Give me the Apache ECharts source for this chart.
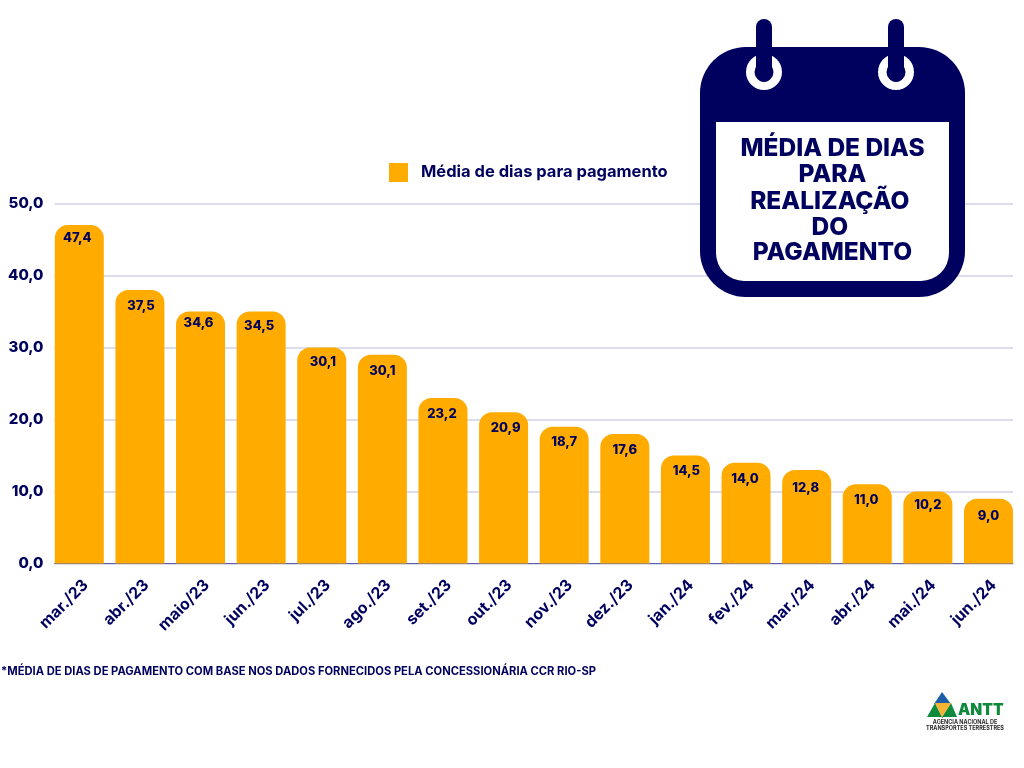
<!DOCTYPE html>
<html><head><meta charset="utf-8">
<style>html,body{margin:0;padding:0;background:#fff}#c{width:1024px;height:768px}</style>
<script src="https://cdn.jsdelivr.net/npm/echarts@6/dist/echarts.min.js"></script>
</head><body><div id="c"></div>
<script>
const categories = ['mar./23','abr./23','maio/23','jun./23','jul./23','ago./23','set./23','out./23','nov./23','dez./23','jan./24','fev./24','mar./24','abr./24','mai./24','jun./24'];
const barHeights = [47,38,35,35,30,29,23,21,19,18,15,14,13,11,10,9];
const printedLabels = ['47,4','37,5','34,6','34,5','30,1','30,1','23,2','20,9','18,7','17,6','14,5','14,0','12,8','11,0','10,2','9,0'];
const seriesName = 'Média de dias para pagamento';
const titleLines = ['MÉDIA DE DIAS','PARA','REALIZAÇÃO ','DO ','PAGAMENTO'];
const footnote = '*MÉDIA DE DIAS DE PAGAMENTO COM BASE NOS DADOS FORNECIDOS PELA CONCESSIONÁRIA CCR RIO-SP';

const labelDx = [-2,1,-2,-2,1,0,-1,2,0,0,1,-1,-1,-1,0,0];
const labelDy = [11,15,10,13,13,15,15,14,14,15,14,15,17,14,12,16];
const titleY = [148.5,175,202,228,253];

const NAVY='#00005f', ORANGE='#ffab00', GRID='#dcdcec', FF='Inter, "Noto Sans", sans-serif';
const chart = echarts.init(document.getElementById('c'), null, {renderer:'canvas'});

const ring = cx => [
  {type:'circle',shape:{cx,cy:72,r:18},style:{fill:'#fff'},z:21},
  {type:'circle',shape:{cx,cy:72,r:9.5},style:{fill:NAVY},z:22},
  {type:'rect',shape:{x:cx-8,y:19,width:16,height:63,r:8},style:{fill:NAVY},z:23}
];
const poly = (points,fill) => ({type:'polygon',shape:{points},style:{fill},z:21});
const tx = (x,y,text,font,fill,align) => ({type:'text',x,y,style:{text,font,fill,align:align||'center',verticalAlign:'middle'},z:25});

chart.setOption({
  animation:false,
  backgroundColor:'#fff',
  textStyle:{fontFamily:FF},
  legend:{left:384,top:158,itemWidth:19,itemHeight:19,icon:'rect',
    textStyle:{color:NAVY,fontSize:16.5,fontWeight:700,fontFamily:FF,padding:[0,0,0,8]},data:[seriesName]},
  grid:[
    {left:54.5,right:11,top:203.5,bottom:204.5},
    {left:49,width:969.8,top:203.5,bottom:204.5},
    {left:55.5,width:969.8,top:203.5,bottom:204.5}
  ],
  xAxis:[
    {type:'category',gridIndex:0,data:categories,
      axisTick:{show:false},axisLabel:{show:false},
      axisLine:{show:true,lineStyle:{color:'#5f5fa8',width:1}}},
    {type:'category',gridIndex:1,data:categories,show:false},
    {type:'category',gridIndex:2,data:categories,
      axisTick:{show:false},axisLine:{show:false},
      axisLabel:{rotate:45,interval:0,margin:19,color:NAVY,fontSize:16,fontWeight:700,fontFamily:FF}}
  ],
  yAxis:[
    {type:'value',gridIndex:0,min:0,max:50,interval:10,
      axisLine:{show:false},axisTick:{show:false},
      axisLabel:{margin:11,color:NAVY,fontSize:15,fontWeight:800,fontFamily:FF,formatter:v=>v.toFixed(1).replace('.',',')},
      splitLine:{lineStyle:{color:GRID,width:2}}},
    {type:'value',gridIndex:1,min:0,max:50,interval:10,show:false,splitLine:{show:false}},
    {type:'value',gridIndex:2,min:0,max:50,interval:10,show:false,splitLine:{show:false}}
  ],
  series:[{
    name:seriesName,type:'bar',xAxisIndex:1,yAxisIndex:1,barWidth:49,
    itemStyle:{color:ORANGE,borderRadius:[13,13,0,0]},
    data:barHeights.map((v,i)=>({value:v,label:{offset:[labelDx[i],labelDy[i]-5]}})),
    label:{show:true,position:'insideTop',distance:0,color:NAVY,fontSize:13,fontWeight:800,fontFamily:FF,
      formatter:p=>printedLabels[p.dataIndex]},
    z:5
  }],
  graphic:{elements:[
    {type:'rect',shape:{x:700,y:47,width:265,height:250,r:46},style:{fill:NAVY},z:20},
    {type:'rect',shape:{x:716,y:122,width:233,height:159,r:[0,0,28,28]},style:{fill:'#fff'},z:21},
    ...ring(764),...ring(896),
    ...titleLines.map((t,i)=>tx(832.5,titleY[i],t,'800 24.5px '+FF,NAVY)),
    tx(1,672,footnote,'700 11.2px '+FF,NAVY,'left'),
    poly([[942,692],[934,704],[951,704]],'#1c5fa8'),
    poly([[927,717],[935,703],[942,717]],'#0f8a3c'),
    poly([[942,717],[951,703],[957,717]],'#0f8a3c'),
    poly([[935,703],[951,703],[942,717]],'#f6b233'),
    tx(958,710.5,'ANTT','900 15.5px '+FF,'#0f8a3c','left'),
    tx(965,722.5,'AGÊNCIA NACIONAL DE','700 5.5px '+FF,'#2a2a2a'),
    tx(965,728.5,'TRANSPORTES TERRESTRES','700 5.5px '+FF,'#2a2a2a')
  ]}
});
</script></body></html>
